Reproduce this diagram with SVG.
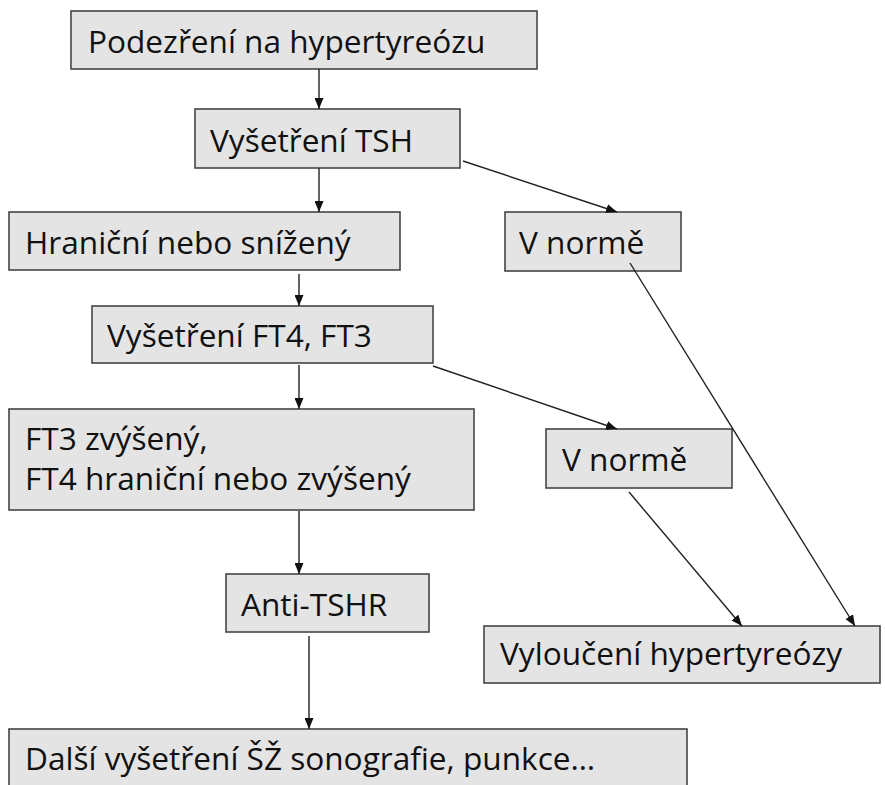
<svg xmlns="http://www.w3.org/2000/svg" width="885" height="785" viewBox="0 0 885 785">
<defs>
<style>
.box{fill:#e4e4e4;stroke:#454545;stroke-width:1.6}
.t{font-family:"Open Sans","Liberation Sans",Arial,sans-serif;font-size:31.6px;fill:#111}
.c{stroke:#222;stroke-width:1.4;fill:none;marker-end:url(#ah)}
</style>
<marker id="ah" markerUnits="userSpaceOnUse" markerWidth="11" markerHeight="9" viewBox="0 0 11 9" refX="11" refY="4.5" orient="auto">
<path d="M0,0 L11,4.5 L0,9 Z" fill="#111"/>
</marker>
</defs>
<rect width="885" height="785" fill="#fff"/>
<g id="n1"><rect class="box" x="71" y="11" width="466" height="58"/><text class="t" x="88" y="53">Podezření na hypertyreózu</text></g>
<g id="n2"><rect class="box" x="195" y="109" width="265" height="59"/><text class="t" x="210" y="152">Vyšetření TSH</text></g>
<g id="n3"><rect class="box" x="9" y="212" width="391" height="58"/><text class="t" x="25" y="254">Hraniční nebo snížený</text></g>
<g id="n4"><rect class="box" x="505" y="212" width="176" height="59"/><text class="t" x="519" y="254">V normě</text></g>
<g id="n5"><rect class="box" x="92" y="306" width="341" height="57"/><text class="t" x="107" y="347">Vyšetření FT4, FT3</text></g>
<g id="n6"><rect class="box" x="9" y="409" width="465" height="101"/><text class="t" x="25" y="450">FT3 zvýšený,</text><text class="t" x="25" y="490">FT4 hraniční nebo zvýšený</text></g>
<g id="n7"><rect class="box" x="546" y="429" width="186" height="59"/><text class="t" x="562" y="471">V normě</text></g>
<g id="n8"><rect class="box" x="226" y="574" width="203" height="58"/><text class="t" x="241" y="616">Anti-TSHR</text></g>
<g id="n9"><rect class="box" x="484" y="626" width="396" height="57"/><text class="t" x="500" y="665">Vyloučení hypertyreózy</text></g>
<g id="n10"><rect class="box" x="9" y="729" width="678" height="70"/><text class="t" x="25" y="770">Další vyšetření ŠŽ sonografie, punkce…</text></g>
<g id="connectors">
<line class="c" x1="319" y1="69" x2="319" y2="109"/>
<line class="c" x1="319" y1="168" x2="319" y2="212"/>
<line class="c" x1="463" y1="161" x2="617" y2="212"/>
<line class="c" x1="299" y1="274" x2="299" y2="306"/>
<line class="c" x1="433" y1="366" x2="617" y2="429"/>
<line class="c" x1="299" y1="365" x2="299" y2="409"/>
<line class="c" x1="299" y1="511" x2="299" y2="574"/>
<line class="c" x1="309" y1="636" x2="309" y2="729"/>
<line class="c" x1="630" y1="263" x2="855" y2="626"/>
<line class="c" x1="629" y1="492" x2="742" y2="626"/>
</g>
</svg>
